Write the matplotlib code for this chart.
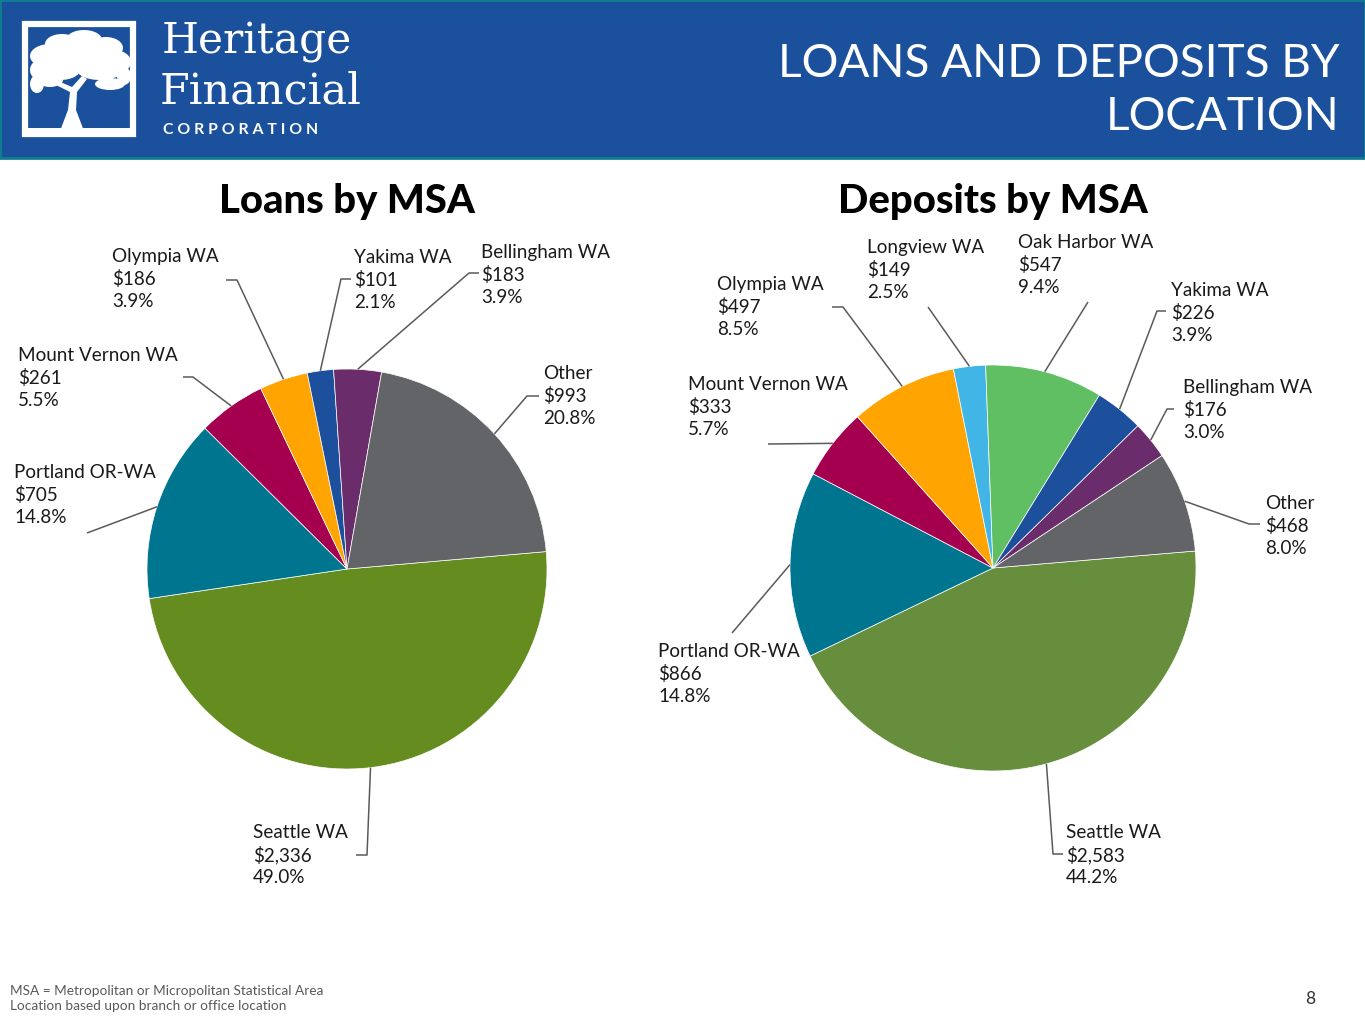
import numpy as np
import matplotlib
matplotlib.use("Agg")
import matplotlib.pyplot as plt
from matplotlib.patches import Rectangle, Ellipse, Polygon

# --- data ---
loan_names = ["Seattle WA", "Portland OR-WA", "Mount Vernon WA", "Olympia WA",
              "Yakima WA", "Bellingham WA", "Other"]
loan_values = [2336, 705, 261, 186, 101, 183, 993]
loan_pcts = [49.0, 14.8, 5.5, 3.9, 2.1, 3.9, 20.8]

dep_names = ["Seattle WA", "Portland OR-WA", "Mount Vernon WA", "Olympia WA",
             "Longview WA", "Oak Harbor WA", "Yakima WA", "Bellingham WA", "Other"]
dep_values = [2583, 866, 333, 497, 149, 547, 226, 176, 468]
dep_pcts = [44.2, 14.8, 5.7, 8.5, 2.5, 9.4, 3.9, 3.0, 8.0]

loan_colors = ["#658C1F", "#00758F", "#A5004F", "#FFA400", "#1C4F9C", "#6A2C6A", "#636468"]
dep_colors = ["#668E3D", "#00758F", "#A5004F", "#FFA400", "#41B6E6", "#60BF63",
              "#1C4F9C", "#6A2C6A", "#636468"]

W, H = 1365, 1024
FONT = "Lato"
LINE = "#5a5a5a"

fig = plt.figure(figsize=(W / 100, H / 100), dpi=100)
ax = fig.add_axes([0, 0, 1, 1])


def Y(y):
    # pixel row from top -> data y
    return H - y


# label layout: (text left x, first line y, elbow point, end point) in pixels
loan_layout = {
    "Seattle WA": ((253, 831), (367, 855), (356, 855)),
    "Portland OR-WA": ((14, 471), None, (87, 533)),
    "Mount Vernon WA": ((18, 354), (193, 377), (183, 377)),
    "Olympia WA": ((112, 255), (237, 280), (226, 280)),
    "Yakima WA": ((354, 256), (341, 279), (351, 279)),
    "Bellingham WA": ((481, 251), (469, 273), (479, 273)),
    "Other": ((543, 372), (527, 396), (539, 396)),
}
dep_layout = {
    "Seattle WA": ((1066, 831), (1053, 854), (1063, 854)),
    "Portland OR-WA": ((658, 650), None, (732, 633)),
    "Mount Vernon WA": ((688, 383), None, (768, 444)),
    "Olympia WA": ((717, 283), (843, 307), (832, 307)),
    "Longview WA": ((867, 246), None, (928, 307)),
    "Oak Harbor WA": ((1018, 241), None, (1088, 302)),
    "Yakima WA": ((1171, 289), (1157, 311), (1166, 311)),
    "Bellingham WA": ((1183, 386), (1167, 409), (1174, 409)),
    "Other": ((1265, 502), (1249, 524), (1260, 524)),
}


def draw_pie(values, names, pcts, colors, center, radius, start, layout):
    cx, cy = center
    wedges, _ = ax.pie(values, colors=colors, startangle=start, counterclock=False,
                       center=(cx, Y(cy)), radius=radius, frame=True,
                       wedgeprops=dict(edgecolor="white", linewidth=0.5))
    for w, name, val, pct in zip(wedges, names, values, pcts):
        (tx, ty), elbow, end = layout[name]
        mid = np.deg2rad((w.theta1 + w.theta2) / 2)
        px = cx + radius * np.cos(mid)
        py = Y(cy) + radius * np.sin(mid)
        xs, ys = [px], [py]
        if elbow is not None:
            xs.append(elbow[0]); ys.append(Y(elbow[1]))
        xs.append(end[0]); ys.append(Y(end[1]))
        ax.plot(xs, ys, color=LINE, lw=1.1, solid_capstyle="butt")
        lines = [name, "$" + format(val, ","), "%.1f%%" % pct]
        for i, s in enumerate(lines):
            ax.text(tx, Y(ty + 22.5 * i), s, ha="left", va="center_baseline",
                    fontsize=13.6, family=FONT, color="#1a1a1a")


draw_pie(loan_values, loan_names, loan_pcts, loan_colors, (347, 569), 200, 5, loan_layout)
draw_pie(dep_values, dep_names, dep_pcts, dep_colors, (993, 568), 203, 4.8, dep_layout)

ax.set_xlim(0, W)
ax.set_ylim(0, H)
ax.set_aspect("equal")
ax.axis("off")

# --- header band ---
ax.add_patch(Rectangle((0, Y(158)), W, 158, facecolor="#1B519C", edgecolor="#0F7F8E", lw=2))
ax.text(1340, Y(64), "LOANS AND DEPOSITS BY", ha="right", va="center", fontsize=33,
        family=FONT, color="white")
ax.text(1340, Y(117), "LOCATION", ha="right", va="center", fontsize=33,
        family=FONT, color="white")

# logo: framed tree
ax.add_patch(Rectangle((25, Y(134)), 108, 110, fill=False, edgecolor="white", lw=4.5))
for (ex, ey, ew, eh) in [(62, 44, 34, 20), (84, 40, 36, 20), (106, 48, 34, 22),
                         (50, 56, 40, 24), (80, 55, 54, 28), (114, 62, 34, 24),
                         (40, 70, 20, 20), (60, 70, 40, 20), (100, 70, 46, 20),
                         (124, 76, 14, 18), (37, 84, 14, 18), (110, 84, 30, 12),
                         (50, 80, 26, 14)]:
    ax.add_patch(Ellipse((ex, Y(ey)), ew, eh, color="white", lw=0))
ax.add_patch(Polygon([(60, Y(131)), (68, Y(110)), (70, Y(92)), (54, Y(84)), (58, Y(81)),
                      (72, Y(87)), (82, Y(76)), (87, Y(79)), (77, Y(92)), (76, Y(110)),
                      (84, Y(131))], closed=True, color="white", lw=0))
ax.add_patch(Rectangle((28, Y(132)), 102, 4, color="white", lw=0))
ax.text(162, Y(42), "Heritage", ha="left", va="center", fontsize=30.5,
        family="DejaVu Serif", color="white")
ax.text(160, Y(92), "Financial", ha="left", va="center", fontsize=31,
        family="DejaVu Serif", color="white")
ax.text(163, Y(130), "C O R P O R A T I O N", ha="left", va="center", fontsize=11.4,
        family=FONT, color="white", fontweight="bold")

# --- titles ---
ax.text(347, Y(201), "Loans by MSA", ha="center", va="center", fontsize=28.8,
        family=FONT, fontweight="black", color="black")
ax.text(993, Y(201), "Deposits by MSA", ha="center", va="center", fontsize=28.8,
        family=FONT, fontweight="black", color="black")

# --- footer ---
ax.text(10, Y(991), "MSA = Metropolitan or Micropolitan Statistical Area", ha="left",
        va="center", fontsize=9.8, family=FONT, color="#595959")
ax.text(10, Y(1006), "Location based upon branch or office location", ha="left",
        va="center", fontsize=9.8, family=FONT, color="#595959")
ax.text(1310, Y(999), "8", ha="center", va="center", fontsize=12.5, family=FONT, color="#333333")

fig.savefig("out.png", dpi=100)
